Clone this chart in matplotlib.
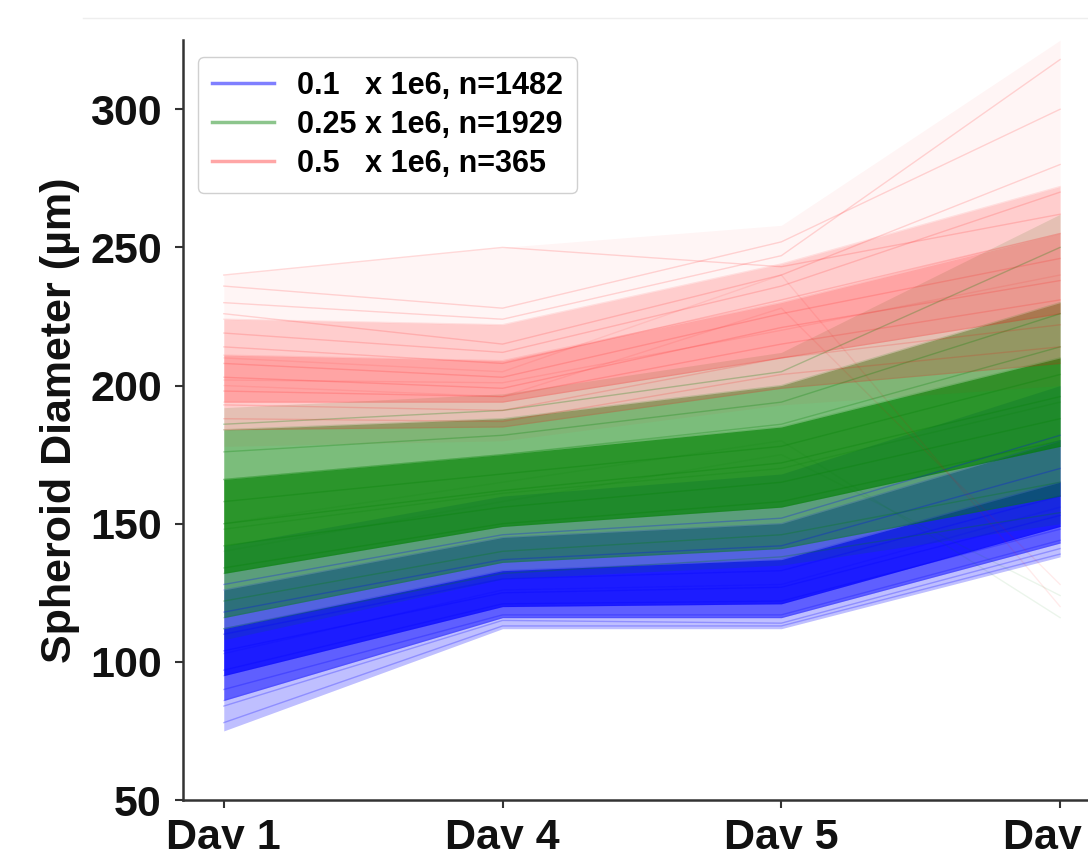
import matplotlib
matplotlib.use('Agg')
import matplotlib.pyplot as plt
import numpy as np
from matplotlib.lines import Line2D

# Дні вимірювань
days = ['Day 1', 'Day 4', 'Day 5', 'Day 7']

# Квантилі діаметра (мкм) по днях: min, p05, p25, p50, p75, p95, max
blue_q = [
    [75, 112, 112, 138],
    [86, 116, 116, 143],
    [95, 120, 121, 149],
    [103, 126, 128, 156],
    [112, 133, 137, 165],
    [126, 145, 150, 180],
    [142, 160, 168, 200],
]
green_q = [
    [108, 130, 135, 150],
    [116, 136, 141, 160],
    [132, 149, 156, 178],
    [148, 161, 170, 194],
    [166, 175, 185, 210],
    [184, 188, 200, 230],
    [192, 197, 212, 262],
]
red_q = [
    [178, 180, 193, 200],
    [184, 185, 199, 208],
    [194, 194, 210, 226],
    [202, 201, 220, 240],
    [211, 209, 230, 255],
    [224, 222, 244, 272],
    [240, 250, 258, 325],
]

# Окремі траєкторії сфероїдів (для текстури)
blue_lines = [
    [78, 113, 113, 139], [84, 115, 114, 141], [90, 117, 117, 144],
    [97, 121, 122, 148], [104, 125, 127, 153], [110, 130, 133, 160],
    [118, 137, 142, 170], [128, 146, 152, 182],
]
green_lines = [
    [112, 132, 138, 154], [122, 140, 146, 165], [134, 150, 158, 180],
    [142, 156, 165, 188], [150, 162, 172, 196], [158, 168, 178, 204],
    [166, 175, 186, 214], [176, 182, 194, 226], [186, 191, 205, 250],
]
red_lines = [
    [240, 250, 243, 262], [236, 228, 252, 300], [230, 224, 247, 318],
    [226, 215, 240, 280], [219, 212, 236, 270], [214, 208, 231, 255],
    [208, 203, 226, 246], [203, 199, 221, 238], [198, 196, 215, 231],
    [193, 191, 210, 222], [188, 187, 204, 214],
]
# поодинокі траєкторії, що падають на останній день
drop_lines = [
    ('g', [150, 165, 180, 116]), ('g', [140, 158, 175, 124]),
    ('r', [210, 205, 240, 120]), ('r', [200, 196, 228, 128]),
]

labels = ['0.1   x 1e6, n=1482', '0.25 x 1e6, n=1929', '0.5   x 1e6, n=365']

groups = [
    ('b', blue_q, blue_lines, (0.25, 0.5, 0.7), 0.25),
    ('g', green_q, green_lines, (0.12, 0.45, 0.65), 0.25),
    ('r', red_q, red_lines, (0.04, 0.16, 0.2), 0.15),
]

fig = plt.figure(figsize=(10.88, 8.49), dpi=100)
ax = fig.add_axes([0.168, 0.0577, 0.832, 0.895])
x = np.arange(len(days))

for color, q, lines, band_alpha, line_alpha in groups:
    q = np.array(q, dtype=float)
    # вкладені смуги: min-max, p05-p95, p25-p75
    for (lo, hi), a in zip([(0, 6), (1, 5), (2, 4)], band_alpha):
        ax.fill_between(x, q[lo], q[hi], color=color, alpha=a, lw=0)
    for row in q[1:-1]:
        ax.plot(x, row, color=color, alpha=line_alpha * 0.6, lw=1)
    for tr in lines:
        ax.plot(x, tr, color=color, alpha=line_alpha, lw=1)

for color, tr in drop_lines:
    ax.plot(x, tr, color=color, alpha=0.08, lw=1)

ax.set_xlim(-0.147, 3.10)
ax.set_ylim(50, 325)
ax.set_xticks(x)
ax.set_xticklabels(days)
ax.set_yticks([50, 100, 150, 200, 250, 300])

for lab in ax.get_xticklabels() + ax.get_yticklabels():
    lab.set_fontfamily('Liberation Sans')
    lab.set_fontweight('bold')
    lab.set_fontsize(31)

for s in ['top', 'right']:
    ax.spines[s].set_visible(False)
for s in ['left', 'bottom']:
    ax.spines[s].set_linewidth(1.8)
    ax.spines[s].set_color('#333333')
ax.tick_params(axis='both', direction='out', length=6, width=1.5,
               color='#333333', labelcolor='#111111')
ax.tick_params(axis='y', pad=9)
ax.tick_params(axis='x', pad=7)

ax.set_ylabel('Spheroid Diameter (µm)', family='Liberation Sans',
              weight='bold', size=31, color='#111111')
ax.yaxis.set_label_coords(-0.113, 0.5)

handles = [Line2D([0], [0], color='b', alpha=0.5, lw=2.5),
           Line2D([0], [0], color='g', alpha=0.45, lw=2.5),
           Line2D([0], [0], color='r', alpha=0.35, lw=2.5)]
leg = ax.legend(handles, labels, loc='upper left',
                bbox_to_anchor=(0.0166, 0.978), borderaxespad=0,
                prop=dict(family='Liberation Sans', weight='bold', size=22),
                handlelength=2.05, handletextpad=0.75, labelspacing=0.3,
                borderpad=0.45, fancybox=True, framealpha=1,
                edgecolor='#d0d0d0')

# бліда лінія зверху
fig.add_artist(Line2D([0.076, 1.0], [1 - 18 / 849] * 2, color='#eeeeee', lw=1))

fig.savefig('out.png', dpi=100)
